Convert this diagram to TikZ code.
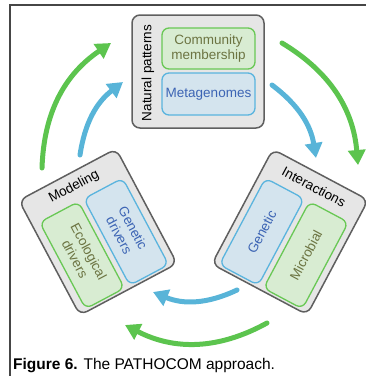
\documentclass[tikz,border=0pt]{standalone}
\usepackage{fontspec}
\setmainfont{Liberation Sans}
\usetikzlibrary{arrows.meta}
\definecolor{framegray}{RGB}{70,70,70}
\definecolor{boxgray}{RGB}{230,230,230}
\definecolor{boxedge}{RGB}{95,95,95}
\definecolor{gedge}{RGB}{105,200,85}
\definecolor{gfill}{RGB}{216,236,210}
\definecolor{bedge}{RGB}{90,180,222}
\definecolor{bfill}{RGB}{212,228,238}
\definecolor{gtext}{RGB}{108,116,66}
\definecolor{btext}{RGB}{60,100,180}
\definecolor{garrow}{RGB}{92,196,78}
\definecolor{barrow}{RGB}{88,180,216}
\begin{document}
\begin{tikzpicture}[x=1pt,y=-1pt,
  outerbox/.style={draw=boxedge, fill=boxgray, line width=1.5pt, rounded corners=8pt, inner sep=0pt},
  greenbox/.style={draw=gedge, fill=gfill, line width=1.3pt, rounded corners=7pt, inner sep=0pt},
  bluebox/.style={draw=bedge, fill=bfill, line width=1.3pt, rounded corners=7pt, inner sep=0pt},
  lbl/.style={font=\fontsize{13.5}{15.5}\selectfont, align=center, inner sep=0pt},
  gtxt/.style={lbl, text=gtext},
  btxt/.style={lbl, text=btext},
  garr/.style={draw=garrow, line width=5pt, line cap=round, -{Triangle[length=15pt,width=17pt]}},
  barr/.style={draw=barrow, line width=5pt, line cap=round, -{Triangle[length=15pt,width=17pt]}}
]
\useasboundingbox (0,0) rectangle (366,376);
% page frame
\draw[framegray, line width=1.3pt] (10,376) -- (10,5) -- (366,5);

% arrows
\coordinate (g1s) at (42,168);  \coordinate (g1e) at (111,43);
\coordinate (g2s) at (282,43);  \coordinate (g2e) at (358,165);
\coordinate (g3s) at (267,323); \coordinate (g3e) at (125,325);
\coordinate (b1s) at (80,155);  \coordinate (b1e) at (123,82);
\coordinate (b2s) at (272,85);  \coordinate (b2e) at (316,158);
\coordinate (b3s) at (237,290); \coordinate (b3e) at (153,292);
\draw[garr] (g1s) to[bend left=27] (g1e);
\draw[garr] (g2s) to[bend left=27] (g2e);
\draw[garr] (g3s) to[bend left=28] (g3e);
\draw[barr] (b1s) to[bend left=22] (b1e);
\draw[barr] (b2s) to[bend left=22] (b2e);
\draw[barr] (b3s) to[bend left=24] (b3e);

% Natural patterns box
\node[outerbox, minimum width=132pt, minimum height=113pt] (np) at (198,71.5) {};
\node[greenbox, minimum width=93pt, minimum height=41pt] (cm) at (208.5,48.5) {};
\node[bluebox, minimum width=93pt, minimum height=42pt] (mg) at (208.5,94) {};
\node[lbl, rotate=90] (npt) at (148,73) {Natural patterns};
\node[gtxt] (cmt) at (cm) {Community\\membership};
\node[btxt] (mgt) at (mg) {Metagenomes};

% Interactions box
\begin{scope}[shift={(290,232)}, rotate=-28, transform shape]
  \node[outerbox, minimum width=108pt, minimum height=130pt] (ia) at (0,0) {};
  \node[lbl] (iat) at (0,-51) {Interactions};
  \node[bluebox, minimum width=44pt, minimum height=98pt] (gen) at (-25,13) {};
  \node[greenbox, minimum width=44pt, minimum height=98pt] (mic) at (25,13) {};
  \node[btxt, rotate=90] (gent) at (gen) {Genetic};
  \node[gtxt, rotate=90] (mict) at (mic) {Microbial};
\end{scope}

% Modeling box
\begin{scope}[shift={(98,232)}, rotate=28, transform shape]
  \node[outerbox, minimum width=110pt, minimum height=130pt] (mo) at (0,0) {};
  \node[lbl] (mot) at (0,-51) {Modeling};
  \node[greenbox, minimum width=44pt, minimum height=98pt] (eco) at (-25,13) {};
  \node[bluebox, minimum width=44pt, minimum height=98pt] (gd) at (25,13) {};
  \node[gtxt, rotate=-90] (ecot) at (eco) {Ecological\\drivers};
  \node[btxt, rotate=-90] (gdt) at (gd) {Genetic\\drivers};
\end{scope}

% caption
\node[anchor=west, inner sep=0pt, font=\fontsize{15.5}{17}\selectfont] (cap) at (13,366) {\textbf{Figure 6.} The PATHOCOM approach.};
\end{tikzpicture}
\end{document}
